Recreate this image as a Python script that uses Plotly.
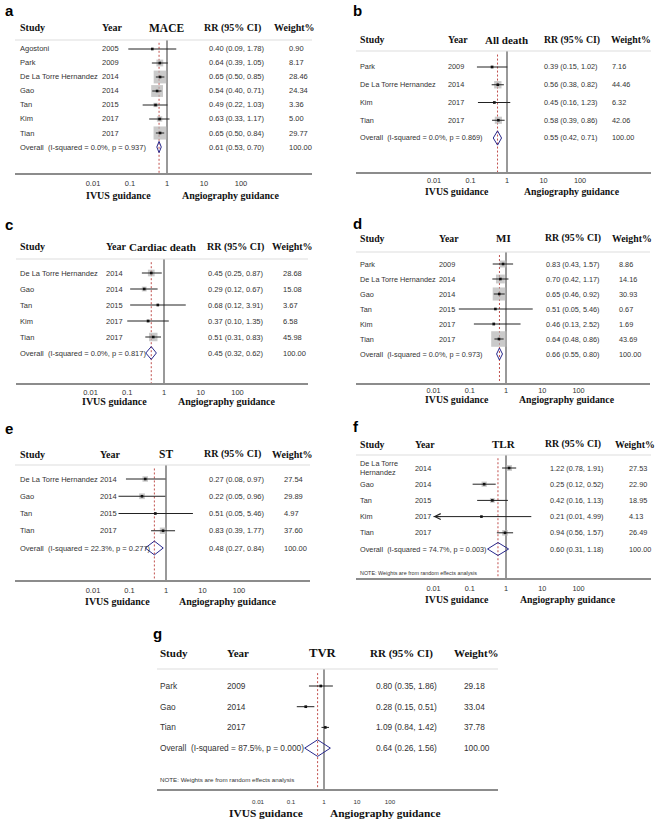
import math
import plotly.graph_objects as go

W, H = 664, 825

# ---------------- data ----------------
TICK_VALS = [0.01, 0.1, 1, 10, 100]
TICK_LABELS = ["0.01", "0.1", "1", "10", "100"]
NULL_RR = 1
OVERALL_WEIGHT = "100.00"

MACE_STUDY = ["Agostoni", "Park", "De La Torre Hernandez", "Gao", "Tan", "Kim", "Tian"]
MACE_YEAR = ["2005", "2009", "2014", "2014", "2015", "2017", "2017"]
MACE_RR = [0.40, 0.64, 0.65, 0.54, 0.49, 0.63, 0.65]
MACE_LO = [0.09, 0.39, 0.50, 0.40, 0.22, 0.33, 0.50]
MACE_HI = [1.78, 1.05, 0.85, 0.71, 1.03, 1.17, 0.84]
MACE_W = [0.90, 8.17, 28.46, 24.34, 3.36, 5.00, 29.77]
MACE_OVERALL = [0.61, 0.53, 0.70]
MACE_HET = "0.0%, p = 0.937"

DEATH_STUDY = ["Park", "De La Torre Hernandez", "Kim", "Tian"]
DEATH_YEAR = ["2009", "2014", "2017", "2017"]
DEATH_RR = [0.39, 0.56, 0.45, 0.58]
DEATH_LO = [0.15, 0.38, 0.16, 0.39]
DEATH_HI = [1.02, 0.82, 1.23, 0.86]
DEATH_W = [7.16, 44.46, 6.32, 42.06]
DEATH_OVERALL = [0.55, 0.42, 0.71]
DEATH_HET = "0.0%, p = 0.869"

CD_STUDY = ["De La Torre Hernandez", "Gao", "Tan", "Kim", "Tian"]
CD_YEAR = ["2014", "2014", "2015", "2017", "2017"]
CD_RR = [0.45, 0.29, 0.68, 0.37, 0.51]
CD_LO = [0.25, 0.12, 0.12, 0.10, 0.31]
CD_HI = [0.87, 0.67, 3.91, 1.35, 0.83]
CD_W = [28.68, 15.08, 3.67, 6.58, 45.98]
CD_OVERALL = [0.45, 0.32, 0.62]
CD_HET = "0.0%, p = 0.817"

MI_STUDY = ["Park", "De La Torre Hernandez", "Gao", "Tan", "Kim", "Tian"]
MI_YEAR = ["2009", "2014", "2014", "2015", "2017", "2017"]
MI_RR = [0.83, 0.70, 0.65, 0.51, 0.46, 0.64]
MI_LO = [0.43, 0.42, 0.46, 0.05, 0.13, 0.48]
MI_HI = [1.57, 1.17, 0.92, 5.46, 2.52, 0.86]
MI_W = [8.86, 14.16, 30.93, 0.67, 1.69, 43.69]
MI_OVERALL = [0.66, 0.55, 0.80]
MI_HET = "0.0%, p = 0.973"

ST_STUDY = ["De La Torre Hernandez", "Gao", "Tan", "Tian"]
ST_YEAR = ["2014", "2014", "2015", "2017"]
ST_RR = [0.27, 0.22, 0.51, 0.83]
ST_LO = [0.08, 0.05, 0.05, 0.39]
ST_HI = [0.97, 0.96, 5.46, 1.77]
ST_W = [27.54, 29.89, 4.97, 37.60]
ST_OVERALL = [0.48, 0.27, 0.84]
ST_HET = "22.3%, p = 0.277"

TLR_STUDY = ["De La Torre<br>Hernandez", "Gao", "Tan", "Kim", "Tian"]
TLR_YEAR = ["2014", "2014", "2015", "2017", "2017"]
TLR_RR = [1.22, 0.25, 0.42, 0.21, 0.94]
TLR_LO = [0.78, 0.12, 0.16, 0.01, 0.56]
TLR_HI = [1.91, 0.52, 1.13, 4.99, 1.57]
TLR_W = [27.53, 22.90, 18.95, 4.13, 26.49]
TLR_OVERALL = [0.60, 0.31, 1.18]
TLR_HET = "74.7%, p = 0.003"

TVR_STUDY = ["Park", "Gao", "Tian"]
TVR_YEAR = ["2009", "2014", "2017"]
TVR_RR = [0.80, 0.28, 1.09]
TVR_LO = [0.35, 0.15, 0.84]
TVR_HI = [1.86, 0.51, 1.42]
TVR_W = [29.18, 33.04, 37.78]
TVR_OVERALL = [0.64, 0.26, 1.56]
TVR_HET = "87.5%, p = 0.000"

NOTE_TEXT = "NOTE: Weights are from random effects analysis"
LEFT_LABEL = "IVUS guidance"
RIGHT_LABEL = "Angiography guidance"
HEADERS = ["Study", "Year", "RR (95% CI)", "Weight%"]

# ---------------- layout geometry (pixels) ----------------
panels = [
    dict(tag="a", title="MACE", study=MACE_STUDY, year=MACE_YEAR, rr=MACE_RR, lo=MACE_LO, hi=MACE_HI,
         w=MACE_W, ov=MACE_OVERALL, het=MACE_HET, note=False,
         g=dict(left=15, right=312, top=40, bottom=173, row0=49, step=14, px1=167, ppd=37, head=28,
                guid=196, ivus=118, angio=231, lab=(3, 11), c_study=18, c_year=100, c_title=166,
                c_rrh=202, c_rr=207, c_wth=272, c_wt=287, fs=7.5, hfs=10, tfs=11.5, gfs=10, tkfs=7.5,
                sq=2.4, tkl=2)),
    dict(tag="b", title="All death", study=DEATH_STUDY, year=DEATH_YEAR, rr=DEATH_RR, lo=DEATH_LO,
         hi=DEATH_HI, w=DEATH_W, ov=DEATH_OVERALL, het=DEATH_HET, note=False,
         g=dict(left=356, right=651, top=51, bottom=172, row0=67, step=17.75, px1=507, ppd=36.5, head=40,
                guid=192, ivus=457, angio=572, lab=(351, 11), c_study=358, c_year=446, c_title=506,
                c_rrh=542, c_rr=542, c_wth=609, c_wt=610, fs=7.3, hfs=9.8, tfs=11, gfs=9.8, tkfs=7.3,
                sq=1.1, tkl=1)),
    dict(tag="c", title="Cardiac death", study=CD_STUDY, year=CD_YEAR, rr=CD_RR, lo=CD_LO, hi=CD_HI,
         w=CD_W, ov=CD_OVERALL, het=CD_HET, note=False,
         g=dict(left=16, right=308, top=259, bottom=383, row0=273, step=16, px1=164, ppd=36.75, head=247,
                guid=401, ivus=115, angio=227, lab=(3, 225), c_study=18, c_year=104, c_title=162,
                c_rrh=205, c_rr=206, c_wth=270, c_wt=281, fs=7.5, hfs=10, tfs=11, gfs=10, tkfs=7.5,
                sq=1.25, tkl=1)),
    dict(tag="d", title="MI", study=MI_STUDY, year=MI_YEAR, rr=MI_RR, lo=MI_LO, hi=MI_HI,
         w=MI_W, ov=MI_OVERALL, het=MI_HET, note=False,
         g=dict(left=356, right=650, top=252, bottom=383, row0=264, step=15, px1=506, ppd=36.25, head=238,
                guid=399, ivus=457, angio=567, lab=(351, 224), c_study=358, c_year=437, c_title=503,
                c_rrh=543, c_rr=544, c_wth=610, c_wt=617, fs=7.3, hfs=9.8, tfs=11, gfs=9.8, tkfs=7.3,
                sq=2.35, tkl=0)),
    dict(tag="e", title="ST", study=ST_STUDY, year=ST_YEAR, rr=ST_RR, lo=ST_LO, hi=ST_HI,
         w=ST_W, ov=ST_OVERALL, het=ST_HET, note=False,
         g=dict(left=15, right=310, top=465, bottom=580, row0=479, step=17.25, px1=166, ppd=36.5, head=454,
                guid=601, ivus=117, angio=228, lab=(3, 428), c_study=18, c_year=98, c_title=166,
                c_rrh=202, c_rr=207, c_wth=270, c_wt=282, fs=7.5, hfs=10, tfs=11.5, gfs=10, tkfs=7.5,
                sq=1.05, tkl=2)),
    dict(tag="f", title="TLR", study=TLR_STUDY, year=TLR_YEAR, rr=TLR_RR, lo=TLR_LO, hi=TLR_HI,
         w=TLR_W, ov=TLR_OVERALL, het=TLR_HET, note=True,
         g=dict(left=356, right=651, top=455, bottom=578, row0=468, step=16.2, px1=506, ppd=36.25, head=444,
                guid=599, ivus=457, angio=568, lab=(351, 426), c_study=358, c_year=413, c_title=504,
                c_rrh=543, c_rr=548, c_wth=613, c_wt=627, fs=7.3, hfs=9.8, tfs=11, gfs=9.8, tkfs=7.3,
                sq=1.1, tkl=3, note_y=573, nfs=5.4)),
    dict(tag="g", title="TVR", study=TVR_STUDY, year=TVR_YEAR, rr=TVR_RR, lo=TVR_LO, hi=TVR_HI,
         w=TVR_W, ov=TVR_OVERALL, het=TVR_HET, note=True,
         g=dict(left=157, right=498, top=669, bottom=789, row0=686, step=20.7, px1=324, ppd=33, head=653,
                guid=813, ivus=266, angio=385, lab=(151, 633), c_study=158, c_year=225, c_title=323,
                c_rrh=368, c_rr=374, c_wth=452, c_wt=462, fs=8.3, hfs=11, tfs=12.7, gfs=11.4, tkfs=6.2,
                sq=0.5, tkl=6, note_y=779, nfs=6.2)),
]

SANS = "Liberation Sans, Arial, sans-serif"
SERIF = "Liberation Serif, Times New Roman, serif"
TXT = "#333333"
SQ_COLOR = "#b3b3b3"
DIAMOND = "#28288c"
REDLINE = "#c0504d"

fig = go.Figure()
annotations = []
shapes = []
layout_axes = {}


def px(x):
    return x / W


def py(y):
    return 1 - y / H


for k, P in enumerate(panels):
    n = k + 1
    sfx = "" if n == 1 else str(n)
    xa, ya = "x" + sfx, "y" + sfx
    g = P["g"]
    nrow = len(P["study"])
    xr = [(g["left"] - g["px1"]) / g["ppd"], (g["right"] - g["px1"]) / g["ppd"]]
    y_bot = (g["bottom"] - g["row0"]) / g["step"]
    y_top = (g["top"] - g["row0"]) / g["step"]
    layout_axes["xaxis" + sfx] = dict(
        type="log", range=xr, domain=[px(g["left"]), px(g["right"])], anchor=ya,
        showline=True, linecolor="#8c8c8c", linewidth=1.5, showgrid=False, zeroline=False,
        tickvals=TICK_VALS, ticktext=TICK_LABELS, ticks="outside", ticklen=g["tkl"],
        tickcolor="rgba(0,0,0,0)", tickfont=dict(family=SANS, size=g["tkfs"], color=TXT),
        fixedrange=True)
    layout_axes["yaxis" + sfx] = dict(
        range=[y_bot, y_top], domain=[py(g["bottom"]), py(g["top"])], anchor=xa,
        visible=False, fixedrange=True)

    rows = list(range(nrow))
    orow = nrow

    # header separator line
    shapes.append(dict(type="line", xref=xa + " domain", yref=ya + " domain", x0=0, x1=1, y0=1, y1=1,
                       line=dict(color="#dddddd", width=1)))

    # null line and overall dashed line (drawn as traces through the log axis)
    fig.add_trace(go.Scatter(x=[NULL_RR, NULL_RR], y=[y_top, y_bot], mode="lines", xaxis=xa, yaxis=ya,
                             line=dict(color="#6e6e6e", width=1.4), hoverinfo="skip", showlegend=False))
    fig.add_trace(go.Scatter(x=[P["ov"][0], P["ov"][0]], y=[y_top + 0.2, y_bot], mode="lines",
                             xaxis=xa, yaxis=ya, line=dict(color=REDLINE, width=1, dash="2px,2px"),
                             hoverinfo="skip", showlegend=False))

    # weight squares
    fig.add_trace(go.Scatter(x=P["rr"], y=rows, mode="markers", xaxis=xa, yaxis=ya,
                             marker=dict(symbol="square", color=SQ_COLOR,
                                         size=[g["sq"] * math.sqrt(v) for v in P["w"]],
                                         line=dict(width=0)),
                             hoverinfo="skip", showlegend=False))
    # CI lines
    cx, cy = [], []
    for i in rows:
        cx += [P["lo"][i], P["hi"][i], None]
        cy += [i, i, None]
    fig.add_trace(go.Scatter(x=cx, y=cy, mode="lines", xaxis=xa, yaxis=ya,
                             line=dict(color="#222222", width=1), hoverinfo="skip", showlegend=False))
    # point estimates
    fig.add_trace(go.Scatter(x=P["rr"], y=rows, mode="markers", xaxis=xa, yaxis=ya,
                             marker=dict(symbol="square", color="#111111", size=2.6),
                             hoverinfo="skip", showlegend=False))
    # overall diamond
    est, olo, ohi = P["ov"]
    hgt = 0.4
    fig.add_trace(go.Scatter(x=[olo, est, ohi, est, olo], y=[orow, orow - hgt, orow, orow + hgt, orow],
                             mode="lines", xaxis=xa, yaxis=ya, line=dict(color=DIAMOND, width=1),
                             hoverinfo="skip", showlegend=False))

    # arrow for truncated CI (lower bound at / beyond 0.01)
    for i in rows:
        if P["lo"][i] <= TICK_VALS[0]:
            annotations.append(dict(xref=xa, yref=ya, x=math.log10(P["lo"][i]), y=i, text="",
                                    showarrow=True, ax=9, ay=0, arrowhead=5, arrowsize=1.3,
                                    arrowwidth=0.9, arrowcolor="#222222"))

    # header texts
    hy = py(g["head"])
    hfont = dict(family=SERIF, size=g["hfs"], color="#111111")
    annotations.append(dict(xref="paper", yref="paper", x=px(g["c_study"]), y=hy, text="<b>%s</b>" % HEADERS[0],
                            xanchor="left", yanchor="middle", showarrow=False, font=hfont))
    annotations.append(dict(xref="paper", yref="paper", x=px(g["c_year"]), y=hy, text="<b>%s</b>" % HEADERS[1],
                            xanchor="left", yanchor="middle", showarrow=False, font=hfont))
    annotations.append(dict(xref="paper", yref="paper", x=px(g["c_title"]), y=hy, text="<b>%s</b>" % P["title"],
                            xanchor="center", yanchor="middle", showarrow=False,
                            font=dict(family=SERIF, size=g["tfs"], color="#111111")))
    annotations.append(dict(xref="paper", yref="paper", x=px(g["c_rrh"]), y=hy, text="<b>%s</b>" % HEADERS[2],
                            xanchor="left", yanchor="middle", showarrow=False, font=hfont))
    annotations.append(dict(xref="paper", yref="paper", x=px(g["c_wth"]), y=hy, text="<b>%s</b>" % HEADERS[3],
                            xanchor="left", yanchor="middle", showarrow=False, font=hfont))

    # row texts
    bfont = dict(family=SANS, size=g["fs"], color=TXT)
    for i in rows:
        for col, txt in ((g["c_study"], P["study"][i]), (g["c_year"], P["year"][i]),
                         (g["c_rr"], "%.2f (%.2f, %.2f)" % (P["rr"][i], P["lo"][i], P["hi"][i])),
                         (g["c_wt"], "%.2f" % P["w"][i])):
            annotations.append(dict(xref="paper", yref=ya, x=px(col), y=i, text=txt, xanchor="left",
                                    yanchor="middle", showarrow=False, font=bfont, align="left"))
    for col, txt in ((g["c_study"], "Overall\u00a0 (I-squared = %s)" % P["het"]),
                     (g["c_rr"], "%.2f (%.2f, %.2f)" % (est, olo, ohi)),
                     (g["c_wt"], OVERALL_WEIGHT)):
        annotations.append(dict(xref="paper", yref=ya, x=px(col), y=orow, text=txt, xanchor="left",
                                yanchor="middle", showarrow=False, font=bfont))

    if P["note"]:
        annotations.append(dict(xref="paper", yref="paper", x=px(g["c_study"]), y=py(g["note_y"]),
                                text=NOTE_TEXT, xanchor="left", yanchor="middle", showarrow=False,
                                font=dict(family=SANS, size=g["nfs"], color=TXT)))

    # guidance labels
    gfont = dict(family=SERIF, size=g["gfs"], color="#111111")
    annotations.append(dict(xref="paper", yref="paper", x=px(g["ivus"]), y=py(g["guid"]),
                            text="<b>%s</b>" % LEFT_LABEL, xanchor="center", yanchor="middle",
                            showarrow=False, font=gfont))
    annotations.append(dict(xref="paper", yref="paper", x=px(g["angio"]), y=py(g["guid"]),
                            text="<b>%s</b>" % RIGHT_LABEL, xanchor="center", yanchor="middle",
                            showarrow=False, font=gfont))
    # panel letter
    annotations.append(dict(xref="paper", yref="paper", x=px(g["lab"][0]), y=py(g["lab"][1]),
                            text="<b>%s</b>" % P["tag"], xanchor="left", yanchor="middle",
                            showarrow=False, font=dict(family=SANS, size=15, color="#000000")))

fig.update_layout(**layout_axes)
fig.update_layout(width=W, height=H, margin=dict(l=0, r=0, t=0, b=0),
                  paper_bgcolor="white", plot_bgcolor="white",
                  annotations=annotations, shapes=shapes, showlegend=False)
fig.write_html("out.html", config={"displayModeBar": False, "staticPlot": True},
               post_script="document.body.style.margin='0px';document.body.style.overflow='hidden';")
